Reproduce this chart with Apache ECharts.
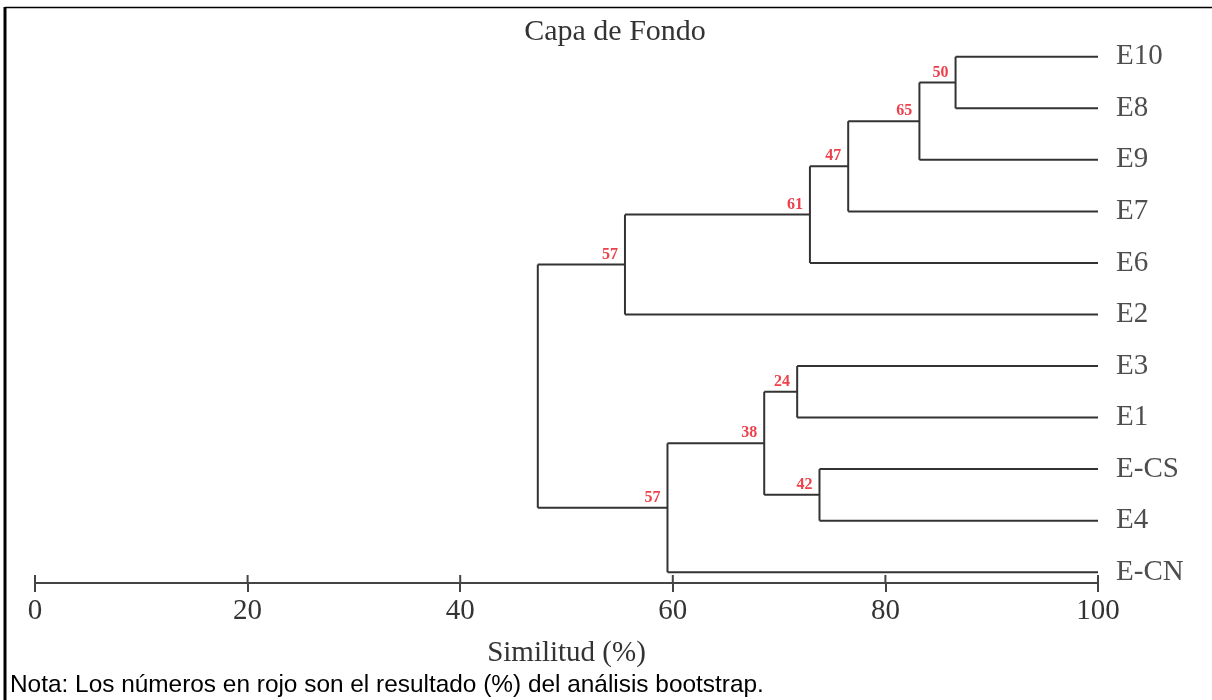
<!DOCTYPE html>
<html>
<head>
<meta charset="utf-8">
<script src="https://cdn.jsdelivr.net/npm/echarts@6/dist/echarts.min.js"></script>
<style>
html,body{margin:0;padding:0;background:#fff;}
#chart{width:1212px;height:700px;}
</style>
</head>
<body>
<div id="chart"></div>
<script>
// Leaves, top to bottom
var leaves = ['E10','E8','E9','E7','E6','E2','E3','E1','E-CS','E4','E-CN'];
// Merges: children (leaf names or node ids), similarity (%) and bootstrap (%)
var mergeIds     = ['n1','n2','n3','n4','n5','m1','m2','m3','m4','root'];
var mergeLeft    = ['E10','n1','n2','n3','n4','E3','E-CS','m1','m3','n5'];
var mergeRight   = ['E8','E9','E7','E6','E2','E1','E4','m2','E-CN','m4'];
var mergeSim     = [86.6, 83.2, 76.5, 72.9, 55.5, 71.7, 73.8, 68.6, 59.5, 47.3];
var bootstrap    = ['50','65','47','61','57','24','42','38','57',''];
var xTicks = [0, 20, 40, 60, 80, 100];

var title = 'Capa de Fondo';
var axisName = 'Similitud (%)';
var note = 'Nota: Los números en rojo son el resultado (%) del análisis bootstrap.';

var Y_MIN = -0.5, Y_MAX = 10.21;

// Build node positions
var pos = {};
leaves.forEach(function(n, i){ pos[n] = {x: 100, y: i}; });
var segs = [];
mergeIds.forEach(function(id, k){
  var a = pos[mergeLeft[k]], b = pos[mergeRight[k]];
  var s = mergeSim[k];
  pos[id] = {x: s, y: (a.y + b.y) / 2};
  segs.push([s, a.y, b.y, a.x, b.x]);
});
var bootData = mergeIds.map(function(id, k){ return [pos[id].x, pos[id].y, bootstrap[k]]; })
  .filter(function(d){ return d[2] !== ''; });
var leafData = leaves.map(function(n, i){ return [100, i, n]; });
var tickData = xTicks.map(function(v){ return [v, Y_MAX]; });

var chart = echarts.init(document.getElementById('chart'), null, {renderer: 'canvas'});
var serif = 'Liberation Serif, Times New Roman, serif';
var lineColor = '#333';

chart.setOption({
  backgroundColor: '#fff',
  animation: false,
  title: {
    text: title, left: 610, top: 12, textAlign: 'center',
    textStyle: {fontFamily: serif, fontSize: 30, fontWeight: 'normal', color: '#333'}
  },
  grid: {left: 35, right: 114, top: 31, bottom: 117, containLabel: false},
  xAxis: {
    type: 'value', min: 0, max: 100, interval: 20, position: 'bottom',
    axisLine: {show: true, onZero: false, lineStyle: {color: '#444', width: 2}},
    axisTick: {show: true, length: 9, lineStyle: {color: '#444', width: 2}},
    axisLabel: {show: true, margin: 14, fontFamily: serif, fontSize: 29, color: '#333',
      formatter: function(v){ return xTicks.indexOf(v) >= 0 ? String(v) : ''; }},
    splitLine: {show: false},
    name: axisName, nameLocation: 'middle', nameGap: 56,
    nameTextStyle: {fontFamily: serif, fontSize: 29, color: '#333', verticalAlign: 'top'}
  },
  yAxis: {
    type: 'value', inverse: true, min: Y_MIN, max: Y_MAX, show: false
  },
  series: [{
    type: 'custom',
    data: segs,
    renderItem: function(params, api){
      var s = api.value(0), ya = api.value(1), yb = api.value(2), xa = api.value(3), xb = api.value(4);
      var pTop = api.coord([s, ya]), pBot = api.coord([s, yb]);
      var pA = api.coord([xa, ya]), pB = api.coord([xb, yb]);
      var st = {stroke: lineColor, lineWidth: 2, fill: null};
      return {type: 'group', children: [
        {type: 'line', shape: {x1: pTop[0], y1: pTop[1], x2: pBot[0], y2: pBot[1]}, style: st},
        {type: 'line', shape: {x1: pTop[0], y1: pTop[1], x2: pA[0], y2: pA[1]}, style: st},
        {type: 'line', shape: {x1: pBot[0], y1: pBot[1], x2: pB[0], y2: pB[1]}, style: st}
      ]};
    }
  }, {
    // upward half of the axis ticks (ticks cross the axis line)
    type: 'custom',
    data: tickData,
    renderItem: function(params, api){
      var p = api.coord([api.value(0), api.value(1)]);
      return {type: 'line', shape: {x1: p[0], y1: p[1], x2: p[0], y2: p[1] - 8},
        style: {stroke: '#444', lineWidth: 2}};
    }
  }, {
    type: 'scatter', data: bootData, symbolSize: 0.1, silent: true,
    label: {show: true, position: 'left', distance: 7, offset: [0, -10],
      formatter: function(p){ return p.value[2]; },
      fontFamily: serif, fontWeight: 'bold', fontSize: 16, color: '#e8101e'}
  }, {
    type: 'scatter', data: leafData, symbolSize: 0.1, silent: true,
    label: {show: true, position: 'right', distance: 18,
      formatter: function(p){ return p.value[2]; },
      fontFamily: serif, fontSize: 29, color: '#222'}
  }],
  graphic: [
    {type: 'line', shape: {x1: 5, y1: 7.5, x2: 1212, y2: 7.5}, style: {stroke: '#000', lineWidth: 1.5}},
    {type: 'line', shape: {x1: 5, y1: 7, x2: 5, y2: 700}, style: {stroke: '#000', lineWidth: 3}},
    {type: 'text', left: 10, top: 673, style: {text: note, font: '24.4px "Liberation Sans", Arial, sans-serif', fill: '#000'}}
  ]
});
</script>
</body>
</html>
